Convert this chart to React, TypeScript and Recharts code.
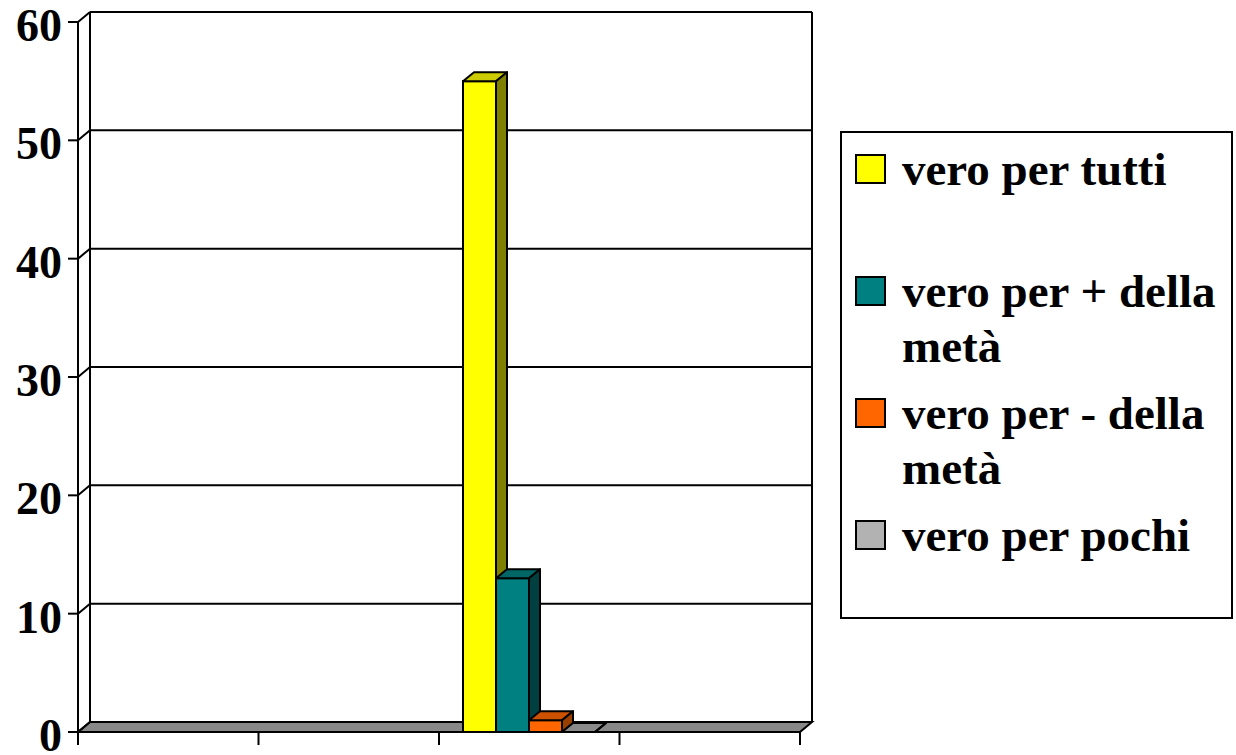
import { BarChart, Bar, XAxis, YAxis, CartesianGrid, Legend } from 'recharts'

const categories = ['1', '2', '3', '4']
const veroPerTutti = [null, null, 55, null]
const veroPerPiuMeta = [null, null, 13, null]
const veroPerMenoMeta = [null, null, 1, null]
const veroPerPochi = [null, null, 0, null]
const yTicks = [0, 10, 20, 30, 40, 50, 60]

const seriesKeys = ['tutti', 'piu', 'meno', 'pochi']
const seriesNames = ['vero per tutti', 'vero per + della metà', 'vero per - della metà', 'vero per pochi']
const frontColors = ['#FFFF00', '#008080', '#FF6600', '#B2B2B2']
const topColors = ['#CCCC00', '#006666', '#CC5200', '#8A8A8A']
const sideColors = ['#808000', '#004040', '#994000', '#5A5A5A']

const data = categories.map((name, i) => ({
    name,
    tutti: veroPerTutti[i],
    piu: veroPerPiuMeta[i],
    meno: veroPerMenoMeta[i],
    pochi: veroPerPochi[i],
}))

// chart frame
const W = 1236
const H = 755
const MARGIN = { top: 22, right: 436, bottom: 10, left: 8 }
const Y_AXIS_W = 70
const X_AXIS_H = 13
const PLOT_TOP = MARGIN.top
const PLOT_BOTTOM = H - MARGIN.bottom - X_AXIS_H
const PLOT_LEFT = MARGIN.left + Y_AXIS_W
const PLOT_W = W - MARGIN.right - PLOT_LEFT
const BAND = PLOT_W / categories.length

// 3d depth of the walls and of the bars
const DX = 12
const DY = 10
const BDX = 11
const BDY = 9

const FONT = '"Liberation Serif", "Times New Roman", serif'

const GridLine = (p: any) => {
    const { x1, y1, x2 } = p
    const isFloor = Math.abs(y1 - PLOT_BOTTOM) < 1
    return (
        <g key={p.key}>
            {isFloor && (
                <>
                    <line x1={x1 + DX} y1={PLOT_TOP - DY} x2={x1 + DX} y2={y1 - DY} stroke="#000" strokeWidth={2} />
                    <line x1={x2 + DX} y1={PLOT_TOP - DY} x2={x2 + DX} y2={y1 - DY} stroke="#000" strokeWidth={2} />
                    <polygon
                        points={`${x1},${y1} ${x2},${y1} ${x2 + DX},${y1 - DY} ${x1 + DX},${y1 - DY}`}
                        fill="#888888"
                        stroke="#000"
                        strokeWidth={2}
                    />
                </>
            )}
            <line x1={x1} y1={y1} x2={x1 + DX} y2={y1 - DY} stroke="#000" strokeWidth={2} />
            <line x1={x1 + DX} y1={y1 - DY} x2={x2 + DX} y2={y1 - DY} stroke="#000" strokeWidth={2} />
        </g>
    )
}

const makeShape = (idx: number) => (p: any) => {
    const { x, y, width: w, height: h, payload } = p
    if (payload == null || payload[seriesKeys[idx]] == null) return <g />
    return (
        <g>
            <rect x={x} y={y} width={w} height={h} fill={frontColors[idx]} stroke="#000" strokeWidth={2} />
            <polygon
                points={`${x},${y} ${x + BDX},${y - BDY} ${x + w + BDX},${y - BDY} ${x + w},${y}`}
                fill={topColors[idx]}
                stroke="#000"
                strokeWidth={2}
                strokeLinejoin="round"
            />
            <polygon
                points={`${x + w},${y} ${x + w + BDX},${y - BDY} ${x + w + BDX},${y + h - BDY} ${x + w},${y + h}`}
                fill={sideColors[idx]}
                stroke="#000"
                strokeWidth={2}
                strokeLinejoin="round"
            />
        </g>
    )
}

const YTick = (p: any) => (
    <text x={p.x - 4} y={p.y + 19} textAnchor="end" fontFamily={FONT} fontWeight="bold" fontSize={46} fill="#000">
        {p.payload.value}
    </text>
)

const XTick = (p: any) => {
    const left = p.x - BAND / 2
    return (
        <g>
            <line x1={left} y1={PLOT_BOTTOM} x2={left} y2={PLOT_BOTTOM + 13} stroke="#000" strokeWidth={2} />
            {p.index === categories.length - 1 && (
                <line x1={left + BAND} y1={PLOT_BOTTOM} x2={left + BAND} y2={PLOT_BOTTOM + 13} stroke="#000" strokeWidth={2} />
            )}
        </g>
    )
}

const renderLegend = (props: any) => {
    // keep the series order, not alphabetical
    const payload = [...(props.payload || [])].sort(
        (a: any, b: any) => seriesNames.indexOf(a.value) - seriesNames.indexOf(b.value)
    )
    return (
        <div
            style={{
                width: 393,
                height: 488,
                boxSizing: 'border-box',
                border: '2px solid #000',
                background: '#fff',
                paddingTop: 9,
            }}
        >
            {payload.map((e: any, i: number) => (
                <div key={i} style={{ display: 'flex', alignItems: 'flex-start', height: 122 }}>
                    <div
                        style={{
                            width: 31,
                            height: 30,
                            boxSizing: 'border-box',
                            border: '2px solid #000',
                            background: e.color,
                            marginLeft: 13,
                            marginTop: 12,
                            flex: 'none',
                        }}
                    />
                    <div
                        style={{
                            marginLeft: 16,
                            width: 327,
                            fontFamily: FONT,
                            fontWeight: 'bold',
                            fontSize: 47,
                            lineHeight: '55px',
                            color: '#000',
                        }}
                    >
                        {e.value}
                    </div>
                </div>
            ))}
        </div>
    )
}

export default function App() {
    return (
        <div style={{ width: W, height: H, background: '#fff' }}>
            <style>{'body { margin: 0; }'}</style>
            <BarChart width={W} height={H} data={data} margin={MARGIN} barSize={33} barGap={0}>
                <CartesianGrid vertical={false} horizontal={GridLine as any} fill="none" />
                <XAxis
                    dataKey="name"
                    height={X_AXIS_H}
                    axisLine={false}
                    tickLine={false}
                    interval={0}
                    tick={XTick as any}
                />
                <YAxis
                    width={Y_AXIS_W}
                    domain={[0, 60]}
                    ticks={yTicks}
                    interval={0}
                    tickSize={10}
                    axisLine={{ stroke: '#000', strokeWidth: 2 }}
                    tickLine={{ stroke: '#000', strokeWidth: 2 }}
                    tick={YTick as any}
                />
                <Legend
                    layout="vertical"
                    align="center"
                    verticalAlign="middle"
                    wrapperStyle={{ left: 840, top: 131, width: 393 }}
                    content={renderLegend}
                />
                {seriesKeys.map((k, i) => (
                    <Bar
                        key={k}
                        dataKey={k}
                        name={seriesNames[i]}
                        fill={frontColors[i]}
                        shape={makeShape(i)}
                        isAnimationActive={false}
                    />
                ))}
            </BarChart>
        </div>
    )
}
